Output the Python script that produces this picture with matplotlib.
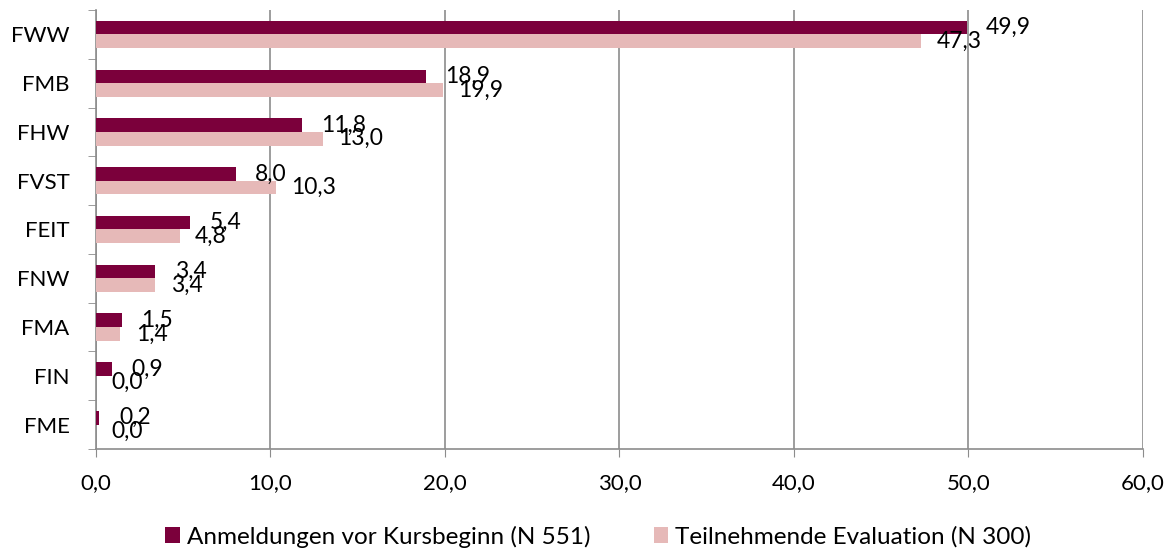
import matplotlib.pyplot as plt
import numpy as np
from matplotlib.ticker import FuncFormatter, FixedLocator

plt.rcParams['font.family'] = ['Lato', 'DejaVu Sans']

categories = ["FWW", "FMB", "FHW", "FVST", "FEIT", "FNW", "FMA", "FIN", "FME"]
anmeldungen = [49.9, 18.9, 11.8, 8.0, 5.4, 3.4, 1.5, 0.9, 0.2]
teilnehmende = [47.3, 19.9, 13.0, 10.3, 4.8, 3.4, 1.4, 0.0, 0.0]
series_names = ["Anmeldungen vor Kursbeginn (N 551)", "Teilnehmende Evaluation (N 300)"]
x_ticks = [0, 10, 20, 30, 40, 50, 60]

dark = "#7B003B"
light = "#E6B9B8"
grid_col = "#8C8C8C"
fs = 16

fig = plt.figure(figsize=(11.73, 5.52), dpi=100)
ax = fig.add_axes([0.0818, 0.1866, 0.8926, 0.7953])

n = len(categories)
y = np.arange(n)
h = 0.28
ax.barh(y - h / 2, anmeldungen, height=h, color=dark, label=series_names[0], zorder=3)
ax.barh(y + h / 2, teilnehmende, height=h, color=light, label=series_names[1], zorder=3)

# data labels, overlapping like in the original
for yi, v in zip(y, anmeldungen):
    ax.annotate(f"{v:.1f}".replace(".", ","), (v, yi - h / 2), xytext=(14, 0),
                textcoords="offset points", va="center", ha="left", fontsize=fs + 0.5, zorder=4)
for yi, v in zip(y, teilnehmende):
    ax.annotate(f"{v:.1f}".replace(".", ","), (v, yi + h / 2), xytext=(11, 0),
                textcoords="offset points", va="center", ha="left", fontsize=fs + 0.5, zorder=4)

ax.set_ylim(n - 0.5, -0.5)
ax.set_xlim(0, 60)
ax.set_yticks(y)
ax.set_yticklabels(categories, fontsize=fs)
ax.yaxis.set_minor_locator(FixedLocator(np.arange(-0.5, n, 1.0)))
ax.tick_params(axis="y", which="major", length=0, pad=19)
ax.tick_params(axis="y", which="minor", length=6, color=grid_col)

ax.set_xticks(x_ticks)
ax.xaxis.set_major_formatter(FuncFormatter(lambda v, p: f"{v:.1f}".replace(".", ",")))
ax.tick_params(axis="x", labelsize=fs, length=6, color=grid_col, pad=11)

ax.grid(axis="x", color=grid_col, linewidth=1.2, zorder=0)
for s in ["top", "right"]:
    ax.spines[s].set_visible(False)
for s in ["left", "bottom"]:
    ax.spines[s].set_color(grid_col)
    ax.spines[s].set_linewidth(1.2)

fig.legend(loc="center", bbox_to_anchor=(0.51, 0.028), ncol=2, frameon=False,
           fontsize=17.5, handlelength=0.6, handleheight=0.6, handletextpad=0.3,
           columnspacing=2.6)

fig.savefig("out.png", dpi=100)
